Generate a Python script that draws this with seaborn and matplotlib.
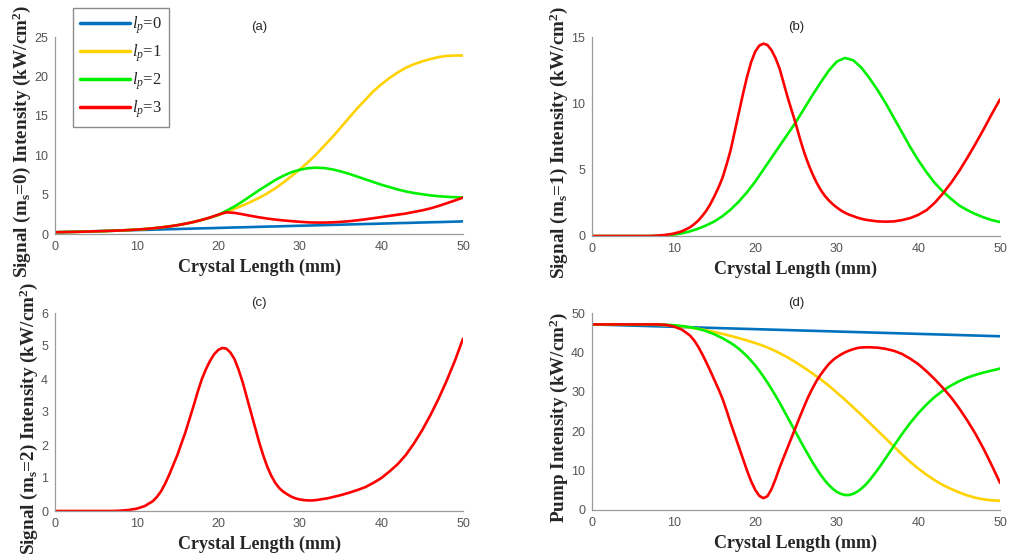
import matplotlib
matplotlib.use("Agg")
import matplotlib.pyplot as plt
import numpy as np
import pandas as pd
import seaborn as sns

# Crystal length axis (mm): 1 mm steps, plus a finer grid across the resonance region
length_mm = list(range(0, 51))
length_fine = (list(range(0, 13))
               + [12.5 + 0.5 * i for i in range(44)]
               + list(range(35, 51)))

# (a) signal m_s = 0 intensity (kW/cm^2)
sig0_l0 = [0.22, 0.25, 0.28, 0.30, 0.33, 0.36, 0.39, 0.41, 0.44, 0.47, 0.50,
           0.52, 0.55, 0.58, 0.61, 0.63, 0.66, 0.69, 0.72, 0.74, 0.77,
           0.80, 0.83, 0.85, 0.88, 0.91, 0.94, 0.96, 0.99, 1.02, 1.05,
           1.07, 1.10, 1.13, 1.16, 1.18, 1.21, 1.24, 1.27, 1.29, 1.32,
           1.35, 1.38, 1.40, 1.43, 1.46, 1.49, 1.51, 1.54, 1.57, 1.60]
sig0_l1 = [0.22, 0.24, 0.26, 0.28, 0.31, 0.34, 0.37, 0.41, 0.45, 0.50, 0.56,
           0.63, 0.72, 0.83, 0.96, 1.12, 1.31, 1.53, 1.79, 2.08, 2.38,
           2.80, 3.20, 3.62, 4.08, 4.58, 5.15, 5.80, 6.55, 7.35, 8.20,
           9.10, 10.10, 11.20, 12.30, 13.50, 14.70, 15.90, 17.00, 18.10, 19.00,
           19.80, 20.50, 21.10, 21.55, 21.90, 22.20, 22.45, 22.60, 22.65, 22.65]
sig0_l2 = [0.22, 0.24, 0.26, 0.28, 0.31, 0.34, 0.37, 0.41, 0.45, 0.50, 0.56,
           0.63, 0.72, 0.83, 0.96, 1.12, 1.31, 1.53, 1.79, 2.08, 2.42,
           2.95, 3.50, 4.15, 4.85, 5.55, 6.20, 6.85, 7.40, 7.85, 8.15,
           8.35, 8.42, 8.37, 8.20, 7.95, 7.65, 7.30, 6.95, 6.60, 6.25,
           5.95, 5.65, 5.40, 5.20, 5.05, 4.90, 4.80, 4.72, 4.67, 4.65]
sig0_l3 = [0.22, 0.24, 0.26, 0.28, 0.31, 0.34, 0.37, 0.41, 0.45, 0.50, 0.56,
           0.63, 0.72, 0.83, 0.96, 1.12, 1.31, 1.53, 1.79, 2.10, 2.45,
           2.75, 2.68, 2.50, 2.30, 2.12, 1.96, 1.83, 1.72, 1.63, 1.55,
           1.48, 1.45, 1.45, 1.48, 1.54, 1.62, 1.73, 1.86, 2.00, 2.15,
           2.30, 2.45, 2.60, 2.80, 3.00, 3.25, 3.55, 3.90, 4.25, 4.62]

# (b) signal m_s = 1 intensity (kW/cm^2)
sig1_l2 = [0.00, 0.00, 0.00, 0.00, 0.00, 0.00, 0.00, 0.00, 0.02, 0.05, 0.10,
           0.20, 0.35, 0.55, 0.80, 1.10, 1.50, 2.00, 2.60, 3.30, 4.10,
           5.00, 5.90, 6.80, 7.70, 8.60, 9.60, 10.60, 11.55, 12.45, 13.15,
           13.42, 13.25, 12.70, 11.90, 11.00, 10.00, 8.90, 7.80, 6.70, 5.70,
           4.80, 4.00, 3.35, 2.80, 2.30, 1.95, 1.65, 1.40, 1.20, 1.05]
# on length_fine
sig1_l3 = [0.00, 0.00, 0.00, 0.00, 0.00, 0.00, 0.00, 0.00, 0.03, 0.08, 0.18,
           0.35, 0.65,
           0.88, 1.15, 1.50, 1.90, 2.40, 3.00, 3.65, 4.40, 5.40, 6.50,
           7.90, 9.30, 10.70, 12.00, 13.10, 13.90, 14.35, 14.50, 14.40, 14.00,
           13.40, 12.60, 11.50, 10.40, 9.40, 8.40, 7.30, 6.30, 5.45, 4.70,
           4.05, 3.50, 3.05, 2.70, 2.40, 2.15, 1.93, 1.75, 1.61, 1.50,
           1.39, 1.30, 1.23, 1.18,
           1.10, 1.08, 1.10, 1.20, 1.35, 1.60, 1.95, 2.50, 3.20, 4.00,
           4.90, 5.90, 6.95, 8.05, 9.20, 10.30]

# (c) signal m_s = 2 intensity (kW/cm^2), on length_fine
sig2_l3 = [0.00, 0.00, 0.00, 0.00, 0.00, 0.00, 0.00, 0.00, 0.01, 0.03, 0.07,
           0.15, 0.30,
           0.43, 0.60, 0.83, 1.10, 1.40, 1.70, 2.05, 2.40, 2.80, 3.20,
           3.62, 4.00, 4.30, 4.55, 4.75, 4.88, 4.94, 4.92, 4.80, 4.60,
           4.28, 3.90, 3.45, 3.00, 2.55, 2.10, 1.70, 1.35, 1.07, 0.85,
           0.69, 0.58, 0.50, 0.43, 0.38, 0.35, 0.33, 0.32, 0.32, 0.33,
           0.35, 0.37, 0.39, 0.42,
           0.48, 0.55, 0.63, 0.72, 0.85, 1.00, 1.20, 1.42, 1.70, 2.05,
           2.45, 2.90, 3.40, 3.95, 4.55, 5.22]

# (d) pump intensity (kW/cm^2)
pump_l0 = [47.10, 47.04, 46.98, 46.92, 46.86, 46.80, 46.74, 46.68, 46.62, 46.56, 46.50,
           46.44, 46.38, 46.32, 46.26, 46.20, 46.14, 46.08, 46.02, 45.96, 45.90,
           45.84, 45.78, 45.72, 45.66, 45.60, 45.54, 45.48, 45.42, 45.36, 45.30,
           45.24, 45.18, 45.12, 45.06, 45.00, 44.94, 44.88, 44.82, 44.76, 44.70,
           44.64, 44.58, 44.52, 44.46, 44.40, 44.34, 44.28, 44.22, 44.16, 44.10]
pump_l1 = [47.10, 47.10, 47.10, 47.10, 47.10, 47.10, 47.10, 47.10, 47.02, 46.92, 46.78,
           46.58, 46.32, 46.00, 45.62, 45.18, 44.70, 44.18, 43.62, 43.02, 42.38,
           41.65, 40.80, 39.80, 38.70, 37.45, 36.10, 34.70, 33.20, 31.60, 29.80,
           28.00, 26.10, 24.15, 22.15, 20.15, 18.15, 16.10, 14.10, 12.20, 10.50,
           8.95, 7.55, 6.35, 5.35, 4.45, 3.70, 3.10, 2.70, 2.45, 2.35]
# on length_fine
pump_l2 = [47.10, 47.10, 47.10, 47.10, 47.10, 47.10, 47.10, 47.10, 47.10, 47.05, 46.90,
           46.70, 46.40,
           46.20, 46.00, 45.70, 45.40, 45.00, 44.60, 44.10, 43.60, 43.00, 42.40,
           41.70, 40.90, 40.00, 39.00, 37.90, 36.70, 35.35, 33.90, 32.35, 30.70,
           29.00, 27.20, 25.30, 23.40, 21.50, 19.60, 17.70, 15.80, 14.00, 12.20,
           10.55, 9.00, 7.60, 6.40, 5.40, 4.60, 4.10, 3.80, 3.80, 4.10,
           4.65, 5.40, 6.35, 7.50,
           10.20, 13.20, 16.30, 19.30, 22.10, 24.60, 26.80, 28.70, 30.30, 31.60,
           32.70, 33.60, 34.30, 34.90, 35.40, 35.90]
# on length_fine
pump_l3 = [47.10, 47.10, 47.10, 47.10, 47.10, 47.10, 47.10, 47.10, 47.10, 47.00, 46.60,
           45.80, 44.30,
           43.10, 41.50, 39.60, 37.50, 35.30, 33.00, 30.70, 28.20, 25.20, 22.00,
           19.00, 16.00, 13.00, 10.00, 7.30, 5.10, 3.60, 3.00, 3.50, 5.30,
           7.90, 10.80, 13.40, 16.00, 18.60, 21.20, 23.80, 26.30, 28.70, 30.80,
           32.70, 34.30, 35.70, 37.00, 38.00, 38.80, 39.45, 40.00, 40.45, 40.80,
           41.10, 41.25, 41.30, 41.30,
           41.20, 40.90, 40.40, 39.60, 38.40, 37.00, 35.20, 33.20, 31.00, 28.60,
           25.80, 22.70, 19.30, 15.50, 11.30, 6.90]

mode_colors = {"0": "#0072BD", "1": "#FFD200", "2": "#00F000", "3": "#FF0000"}

sns.set_style("white")
plt.rcParams["mathtext.fontset"] = "custom"
plt.rcParams["mathtext.rm"] = "Liberation Serif:bold"
plt.rcParams["mathtext.it"] = "Liberation Serif:italic"

fig = plt.figure(figsize=(10.09, 5.59), dpi=100)
W, H = 1009.0, 559.0


def make_axes(left, top, right, bottom):
    return fig.add_axes([left / W, 1 - bottom / H, (right - left) / W, (bottom - top) / H])


ax_a = make_axes(55, 37, 463, 234)
ax_b = make_axes(592, 37, 1000, 236)
ax_c = make_axes(55, 313, 463, 511)
ax_d = make_axes(592, 313, 1000, 510)


def draw(ax, series):
    for mode, xs, values in series:
        df = pd.DataFrame({"length": xs, "intensity": values})
        sns.lineplot(data=df, x="length", y="intensity", ax=ax,
                     color=mode_colors[mode], linewidth=1.9,
                     label=r"$\mathit{l}_{\mathit{p}}$=" + mode)


draw(ax_a, [("0", length_mm, sig0_l0), ("1", length_mm, sig0_l1),
            ("2", length_mm, sig0_l2), ("3", length_mm, sig0_l3)])
draw(ax_b, [("2", length_mm, sig1_l2), ("3", length_fine, sig1_l3)])
draw(ax_c, [("3", length_fine, sig2_l3)])
draw(ax_d, [("0", length_mm, pump_l0), ("1", length_mm, pump_l1),
            ("2", length_fine, pump_l2), ("3", length_fine, pump_l3)])

panels = [
    (ax_a, "(a)", r"Signal (m$_{\mathrm{s}}$=0) Intensity (kW/cm$^{\mathrm{2}}$)", 25, 5),
    (ax_b, "(b)", r"Signal (m$_{\mathrm{s}}$=1) Intensity (kW/cm$^{\mathrm{2}}$)", 15, 5),
    (ax_c, "(c)", r"Signal (m$_{\mathrm{s}}$=2) Intensity (kW/cm$^{\mathrm{2}}$)", 6, 1),
    (ax_d, "(d)", r"Pump Intensity (kW/cm$^{\mathrm{2}}$)", 50, 10),
]

label_font = {"family": "Liberation Serif", "weight": "bold", "size": 13.8}
xlabel_font = {"family": "Liberation Serif", "weight": "bold", "size": 13}
for ax, tag, ylab, ymax, ystep in panels:
    ax.set_xlim(0, 50)
    ax.set_ylim(0, ymax)
    ax.set_xticks(np.arange(0, 51, 10))
    ax.set_yticks(np.arange(0, ymax + 0.01, ystep))
    ax.set_xlabel("Crystal Length (mm)", fontdict=xlabel_font, labelpad=4)
    ax.set_ylabel(ylab, fontdict=label_font, labelpad=1)
    ax.yaxis.label.set_y(0.47)
    ax.set_title(tag, fontsize=9.5, family="Liberation Sans", pad=5)
    for side in ("top", "right"):
        ax.spines[side].set_visible(False)
    for side in ("left", "bottom"):
        ax.spines[side].set_color("#9A9A9A")
        ax.spines[side].set_linewidth(0.9)
    ax.tick_params(direction="in", length=4, width=0.8, color="#9A9A9A",
                   labelcolor="#555555", labelsize=9, pad=5)
    for t in ax.get_xticklabels() + ax.get_yticklabels():
        t.set_family("Liberation Sans")
    ax.patch.set_alpha(0)
    if ax is not ax_a and ax.get_legend() is not None:
        ax.get_legend().remove()

handles, labels = ax_a.get_legend_handles_labels()
ax_a.get_legend().remove()
leg = fig.legend(handles, labels, loc="upper left",
                 bbox_to_anchor=(73 / W, 1 - 8 / H), bbox_transform=fig.transFigure,
                 prop={"family": "Liberation Serif", "size": 12},
                 frameon=True, fancybox=False, edgecolor="#707070",
                 handlelength=3.0, handletextpad=0.15, labelspacing=0.38,
                 borderpad=0.4, borderaxespad=0)
leg.get_frame().set_linewidth(1.0)
for line in leg.get_lines():
    line.set_linewidth(2.5)

fig.savefig("out.png", dpi=100)
